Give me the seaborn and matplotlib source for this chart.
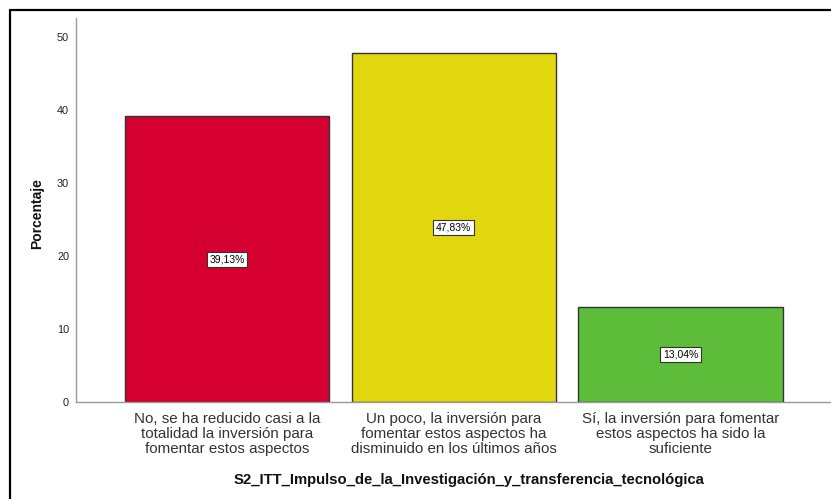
import matplotlib
matplotlib.use("Agg")
import matplotlib.pyplot as plt
import seaborn as sns
import pandas as pd
from matplotlib.lines import Line2D

categories = [
    "No, se ha reducido casi a la\ntotalidad la inversión para\nfomentar estos aspectos",
    "Un poco, la inversión para\nfomentar estos aspectos ha\ndisminuido en los últimos años",
    "Sí, la inversión para fomentar\nestos aspectos ha sido la\nsuficiente",
]
values = [39.13, 47.83, 13.04]
value_labels = ["39,13%", "47,83%", "13,04%"]
colors = ["#D5002F", "#E2D60E", "#5DBD3A"]
yticks = [0, 10, 20, 30, 40, 50]

sns.set_theme(style="white")
plt.rcParams["font.family"] = ["Liberation Sans", "DejaVu Sans"]

df = pd.DataFrame({"cat": categories, "val": values})

fig = plt.figure(figsize=(8.31, 4.99), dpi=100)
ax_w = 1 - 76 / 831 + 0.01
ax = fig.add_axes([76 / 831, 1 - 402 / 499, ax_w, (402 - 18) / 499])

sns.barplot(data=df, x="cat", y="val", hue="cat", palette=colors, legend=False,
            width=0.9, edgecolor="#333333", linewidth=1.0, saturation=1, ax=ax)

ax.set_xlim(-0.665, 2.7)
ax.set_ylim(0, 52.6)
ax.set_yticks(yticks)
ax.set_yticklabels([str(t) for t in yticks], fontsize=7.8, color="#222222")
ax.tick_params(axis="both", length=0)
ax.tick_params(axis="y", pad=5)
ax.tick_params(axis="x", pad=7)
for lab in ax.get_xticklabels():
    lab.set_fontsize(10.9)
    lab.set_color("#333333")
    lab.set_linespacing(1.1)

for s in ["top", "right"]:
    ax.spines[s].set_visible(False)
for s in ["left", "bottom"]:
    ax.spines[s].set_color("#9a9a9a")
    ax.spines[s].set_linewidth(1.0)

ax_w_px = ax_w * 831
ax.set_ylabel("Porcentaje", fontsize=10, fontweight="bold", color="#111111")
ax.yaxis.set_label_coords(-(76 - 44) / ax_w_px, 0.49)
ax.set_xlabel("S2_ITT_Impulso_de_la_Investigación_y_transferencia_tecnológica",
              fontsize=10.7, fontweight="bold", color="#111111")
ax.xaxis.set_label_coords((469 - 76) / ax_w_px, -(473 - 402) / 384)

for i, (v, lab) in enumerate(zip(values, value_labels)):
    ax.text(i, v / 2, lab, ha="center", va="center", fontsize=7.5, color="black",
            bbox=dict(boxstyle="square,pad=0.25", facecolor="white", edgecolor="#333333", linewidth=0.8))

# outer frame (top and left)
fig.add_artist(Line2D([10 / 831, 1.0], [1 - 10 / 499, 1 - 10 / 499], color="black", linewidth=1.6,
                      transform=fig.transFigure))
fig.add_artist(Line2D([10 / 831, 10 / 831], [0, 1 - 10 / 499], color="black", linewidth=1.6,
                      transform=fig.transFigure))

fig.savefig("out.png", dpi=100)
